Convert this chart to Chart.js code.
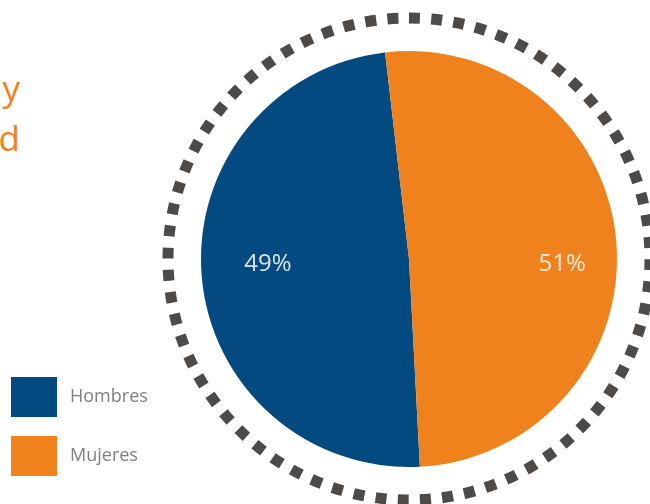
<!DOCTYPE html>
<html>
<head>
<meta charset="utf-8">
<script src="https://cdn.jsdelivr.net/npm/chart.js@4"></script>
<style>
  html, body { margin: 0; padding: 0; background: #fff; }
  body { width: 650px; height: 504px; overflow: hidden; position: relative; font-family: "Open Sans", sans-serif; }
  #wrap { position: absolute; left: 0; top: 0; width: 650px; height: 504px; }
  #title { position: absolute; left: -480px; width: 500px; top: 63px; text-align: right;
           font-size: 35px; line-height: 50px; color: #f0821e; white-space: nowrap; }
  .leg { position: absolute; left: 11px; height: 40px; display: flex; align-items: center; }
  .leg span.box { width: 46px; height: 40px; display: inline-block; }
  .leg span.txt { margin-left: 13px; font-size: 18px; color: #808080; padding-bottom: 5px; }
</style>
</head>
<body>
<div id="title">Distribución por sexo y<br>edad</div>
<div id="wrap"><canvas id="pie" width="650" height="504"></canvas></div>
<div class="leg" style="top:377px"><span class="box" style="background:#034a80"></span><span class="txt">Hombres</span></div>
<div class="leg" style="top:436px"><span class="box" style="background:#f0821e"></span><span class="txt">Mujeres</span></div>
<script>
const categories = ['Hombres', 'Mujeres'];
const values = [49, 51];
const pctLabels = ['49%', '51%'];
const colors = ['#034a80', '#f0821e'];

// dotted ring around the pie + percent labels
const ringPlugin = {
    id: 'ring',
    afterDraw(chart) {
        const arc = chart.getDatasetMeta(0).data[0];
        const ctx = chart.ctx;
        const cx = arc.x, cy = arc.y, r = arc.outerRadius;
        const ringR = r + 33;
        const n = 68;
        const step = 2 * Math.PI * ringR / n;
        ctx.save();
        ctx.strokeStyle = '#4d4a48';
        ctx.lineWidth = 11;
        ctx.setLineDash([11, step - 11]);
        ctx.beginPath();
        ctx.arc(cx, cy, ringR, -Math.PI / 2, 1.5 * Math.PI);
        ctx.stroke();
        ctx.restore();

        ctx.save();
        ctx.font = '24px "Open Sans"';
        ctx.textAlign = 'center';
        ctx.textBaseline = 'middle';
        chart.getDatasetMeta(0).data.forEach((a, i) => {
            const mid = (a.startAngle + a.endAngle) / 2;
            const x = cx + Math.cos(mid) * r * 0.71 + 6;
            ctx.fillStyle = 'rgba(255,255,255,0.85)';
            ctx.fillText(pctLabels[i], x, cy + 5);
        });
        ctx.restore();
    }
};

new Chart(document.getElementById('pie'), {
    type: 'pie',
    data: {
        labels: categories,
        datasets: [{
            data: values,
            backgroundColor: colors,
            borderWidth: 0
        }]
    },
    options: {
        responsive: false,
        animation: false,
        rotation: 177,
        layout: { padding: { top: 51, bottom: 37, left: 201, right: 33 } },
        plugins: {
            legend: { display: false },
            tooltip: { enabled: false }
        }
    },
    plugins: [ringPlugin]
});
</script>
</body>
</html>
